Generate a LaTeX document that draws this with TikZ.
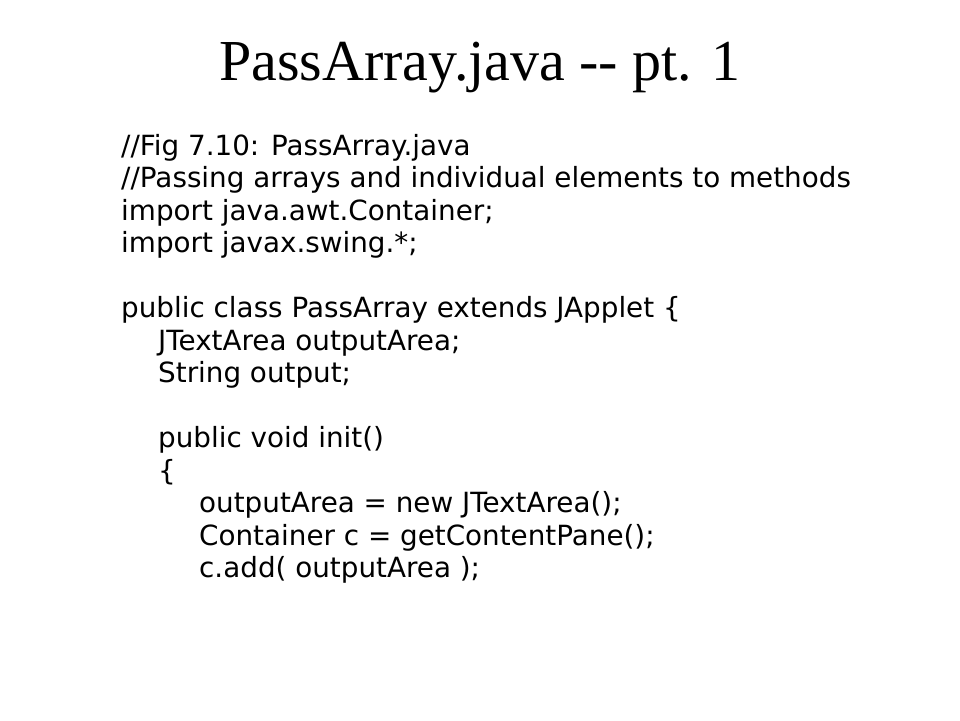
\documentclass[tikz,border=0pt]{standalone}
\usepackage{fontspec}
\setmainfont{Liberation Serif}
\newfontfamily\codefont{DejaVu Sans}
\begin{document}
\begin{tikzpicture}[x=1pt,y=-1pt,
  codeline/.style={anchor=base west,inner sep=0pt,font=\codefont\fontsize{27.8}{32}\selectfont}]
\useasboundingbox (0,0) rectangle (960,720);
\node[anchor=base,inner sep=0pt,font=\fontsize{58}{64}\selectfont] (title) at (480,80) {PassArray.java {-}{-} pt. 1};
\node[codeline] (l1) at (121,155) {//Fig 7.10: PassArray.java};
\node[codeline] (l2) at (121,187.5) {//Passing arrays and individual elements to methods};
\node[codeline] (l3) at (121,220) {import java.awt.Container;};
\node[codeline] (l4) at (121,252.5) {import javax.swing.*;};
\node[codeline] (l6) at (121,317.5) {public class PassArray extends JApplet \{};
\node[codeline] (l7) at (158,350) {JTextArea outputArea;};
\node[codeline] (l8) at (158,382.5) {String output;};
\node[codeline] (l10) at (158,447.5) {public void init()};
\node[codeline] (l11) at (158,480) {\{};
\node[codeline] (l12) at (199,512.5) {outputArea = new JTextArea();};
\node[codeline] (l13) at (199,545) {Container c = getContentPane();};
\node[codeline] (l14) at (199,577.5) {c.add( outputArea );};
\end{tikzpicture}
\end{document}
